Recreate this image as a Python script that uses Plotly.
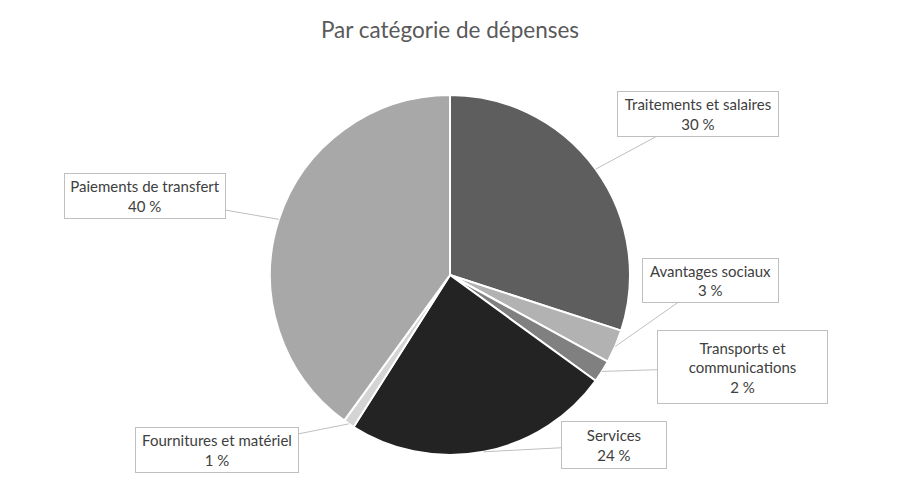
import math

import plotly.graph_objects as go

# données
categories = [
    "Traitements et salaires",
    "Avantages sociaux",
    "Transports et communications",
    "Services",
    "Fournitures et matériel",
    "Paiements de transfert",
]
label_lines = [
    "Traitements et salaires",
    "Avantages sociaux",
    "Transports et<br>communications",
    "Services",
    "Fournitures et matériel",
    "Paiements de transfert",
]
shares = [30, 3, 2, 24, 1, 40]
colors = ["#5e5e5e", "#b2b2b2", "#808080", "#232323", "#d4d4d4", "#a8a8a8"]

# la page ajoute une marge de 8 px : on travaille en px de la capture, puis on décale
OFF = 8
W, H = 900 - OFF, 501 - OFF
CX, CY, R = 450 - OFF, 275 - OFF, 180

# étiquettes encadrées (centre px dans la capture, largeur, hauteur)
boxes = [
    (698, 114, 160, 44),
    (710, 280, 135, 43),
    (742, 367, 169, 72),
    (614, 445, 104, 46),
    (217, 450, 162, 44),
    (145, 196, 160, 44),
]
FONT = "Lato, Open Sans, sans-serif"

fig = go.Figure(
    go.Pie(
        labels=categories,
        values=shares,
        sort=False,
        direction="clockwise",
        rotation=0,
        marker=dict(colors=colors, line=dict(color="white", width=2)),
        textinfo="none",
        hoverinfo="label+percent",
        showlegend=False,
        domain=dict(x=[(CX - R) / W, (CX + R) / W], y=[1 - (CY + R) / H, 1 - (CY - R) / H]),
    )
)

total = sum(shares)
cum = 0
for name, value, (bx, by, bw, bh) in zip(label_lines, shares, boxes):
    mid = (cum + value / 2) / total * 2 * math.pi
    cum += value
    tx = CX + R * math.sin(mid)
    ty = CY - R * math.cos(mid)
    fig.add_annotation(
        x=tx / W,
        y=1 - ty / H,
        xref="paper",
        yref="paper",
        ax=(bx - OFF) - tx,
        ay=(by - OFF) - ty,
        text=f"{name}<br>{value} %",
        showarrow=True,
        arrowhead=0,
        arrowwidth=1,
        arrowcolor="#bfbfbf",
        width=bw,
        height=bh,
        align="center",
        valign="middle",
        bgcolor="white",
        bordercolor="#bfbfbf",
        borderwidth=1,
        borderpad=0,
        font=dict(family=FONT, size=15, color="#404040"),
    )

fig.update_layout(
    width=W,
    height=H,
    title=dict(
        text="Par catégorie de dépenses",
        x=0.5 + (450 - OFF - W / 2) / W,
        xanchor="center",
        y=1 - (30 - OFF) / H,
        yanchor="middle",
        font=dict(family=FONT, size=22.5, color="#595959"),
    ),
    margin=dict(l=0, r=0, t=0, b=0),
    paper_bgcolor="white",
    plot_bgcolor="white",
)

fig.write_html("out.html")
